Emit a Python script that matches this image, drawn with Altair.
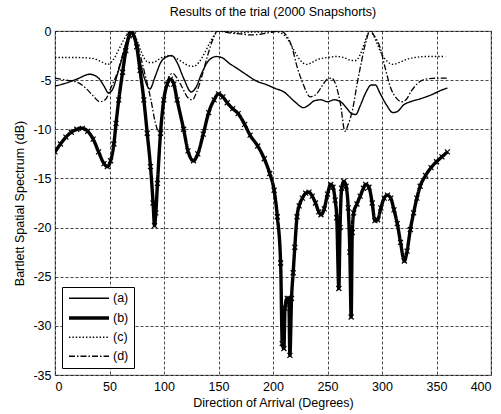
import altair as alt
import pandas as pd

# ---- data ----
a_x = [0, 10, 20, 32, 40, 45, 49, 53, 57, 62, 66, 70, 73, 77, 82, 87, 92, 97, 103, 107, 112, 118, 125, 129, 135, 141, 148, 153, 160, 167, 175, 185, 195, 201, 210, 220, 228, 232, 238, 244, 250, 256, 262, 268, 272, 276, 280, 285, 290, 294, 298, 304, 310, 314, 320, 326, 335, 345, 355, 360]
a_y = [-5.6, -5.3, -4.9, -4.4, -4.8, -5.6, -6.3, -5.9, -4.5, -2.6, -1.0, 0.0, -0.6, -2.6, -4.8, -5.9, -4.6, -3.2, -2.6, -2.5, -3.2, -4.8, -6.2, -5.8, -4.2, -3.0, -2.6, -2.7, -3.3, -3.8, -4.4, -5.1, -5.5, -5.8, -6.2, -7.2, -7.8, -7.6, -7.1, -7.0, -7.2, -7.0, -7.2, -7.9, -8.4, -8.5, -7.6, -6.3, -5.5, -5.5, -6.3, -7.5, -8.3, -8.2, -7.5, -7.2, -6.9, -6.5, -6.0, -5.8]

b_x = [0, 5, 10, 15, 20, 25, 30, 35, 40, 45, 48, 51, 54, 56, 58.5, 62, 65, 68, 70, 72, 75, 78, 81.5, 84.6, 87.6, 90, 91.3, 92.5, 94, 96.8, 99.8, 103, 106, 109, 112, 118, 122, 127, 131, 136, 141, 146, 150, 154, 158, 163, 168, 174, 179, 186, 192, 197, 201, 204, 207, 208.5, 210, 211, 213, 214.5, 215.5, 217, 218.5, 220, 222, 224, 227, 230, 233, 236, 239, 242, 244, 247, 250, 253, 255, 257, 258.5, 260.4, 261.5, 263, 265, 267, 269, 270.5, 271.7, 272.7, 274, 277, 280, 283, 285, 288, 291, 293.5, 296, 299, 302, 305, 308, 311, 314, 317, 320.5, 323, 326, 329, 332, 335, 340, 345, 350, 355, 360]
b_y = [-12.3, -11.5, -10.8, -10.3, -10.0, -9.9, -10.2, -11.0, -12.3, -13.5, -13.8, -13.2, -11.5, -9.4, -7.0, -4.2, -2.0, -0.5, 0.0, -0.4, -1.6, -4.0, -7.0, -10.4, -13.8, -17.5, -19.8, -18.5, -15.5, -10.4, -7.0, -5.4, -4.9, -5.4, -7.0, -10.0, -12.2, -13.2, -12.5, -10.5, -8.3, -7.0, -6.4, -6.7, -7.3, -7.9, -8.4, -9.5, -10.6, -11.7, -13.0, -14.5, -16.2, -18.9, -23.6, -31.8, -32.3, -28.2, -27.2, -27.2, -33.0, -27.2, -24.6, -22.0, -18.9, -17.8, -17.0, -16.5, -16.4, -16.8, -17.5, -18.4, -18.7, -18.1, -16.6, -15.6, -15.9, -17.2, -19.0, -26.2, -20.0, -16.0, -15.3, -15.8, -18.0, -22.5, -29.1, -20.5, -18.5, -17.6, -16.8, -16.0, -15.6, -15.9, -17.5, -19.3, -19.2, -18.0, -17.0, -16.7, -17.0, -18.2, -19.6, -21.5, -23.4, -22.4, -20.2, -18.5, -17.0, -15.8, -14.7, -13.9, -13.3, -12.8, -12.3]

c_x = [0, 20, 35, 42, 48, 53, 58, 63, 67, 70, 74, 78, 82, 86, 90, 95, 100, 105, 110, 116, 122, 127, 132, 137, 142, 147, 150, 160, 170, 180, 190, 200, 207, 212, 217, 222, 227, 231, 236, 241, 250, 258, 265, 272, 276, 280, 284, 287, 289, 292, 296, 300, 305, 310, 316, 322, 330, 340, 350, 358]
c_y = [-2.7, -2.7, -2.8, -3.1, -3.4, -3.0, -2.0, -0.9, -0.2, 0.0, -0.6, -1.8, -2.8, -3.2, -3.2, -2.9, -2.6, -2.5, -2.7, -3.1, -3.5, -3.6, -3.2, -2.3, -1.2, -0.3, 0.0, -0.1, -0.2, -0.1, -0.1, 0.0, -0.2, -0.6, -1.5, -2.5, -3.2, -3.4, -3.2, -2.9, -2.7, -2.6, -2.7, -3.0, -3.0, -2.4, -1.2, -0.3, 0.0, -0.4, -1.4, -2.4, -3.1, -3.4, -3.2, -2.9, -2.7, -2.6, -2.6, -2.6]

d_x = [0, 10, 20, 28, 35, 41, 46, 52, 57, 62, 66, 70, 74, 78, 83, 88, 92, 95, 98, 101, 104, 108, 112, 117, 122, 126, 130, 135, 140, 145, 149, 160, 170, 180, 190, 200, 207, 212, 217, 222, 228, 234, 240, 245, 250, 254, 258, 262, 266, 269, 273, 277, 281, 285, 289, 293, 298, 303, 308, 313, 318, 322, 327, 333, 340, 350, 360]
d_y = [-4.8, -5.0, -5.2, -5.8, -6.6, -7.2, -7.0, -5.6, -4.3, -2.4, -0.9, 0.0, -0.8, -2.4, -4.6, -7.0, -9.3, -10.2, -9.0, -6.5, -4.8, -4.3, -4.8, -5.8, -6.8, -7.0, -6.2, -4.5, -2.5, -0.8, 0.0, -0.2, -0.3, -0.4, -0.3, -0.1, 0.0, -0.4, -1.5, -3.6, -5.5, -6.7, -6.4, -5.6, -4.9, -4.8, -5.6, -7.5, -10.2, -9.5, -8.0, -5.5, -3.2, -1.2, 0.0, -0.5, -1.6, -3.8, -5.8, -6.8, -7.2, -7.0, -6.1, -5.3, -4.9, -4.8, -4.8]

series_names = ["(a)", "(b)", "(c)", "(d)"]
x_ticks = [0, 50, 100, 150, 200, 250, 300, 350, 400]
y_ticks = [-35, -30, -25, -20, -15, -10, -5, 0]

rows = []
for name, xs, ys in zip(series_names, [a_x, b_x, c_x, d_x], [a_y, b_y, c_y, d_y]):
    for i, (xv, yv) in enumerate(zip(xs, ys)):
        rows.append({"series": name, "doa": xv, "db": yv, "order": i})
df = pd.DataFrame(rows)

FONT = "Liberation Sans"

x_enc = alt.X("doa:Q", scale=alt.Scale(domain=[0, 400], nice=False),
              axis=alt.Axis(values=x_ticks, title="Direction of Arrival (Degrees)",
                            labelExpr="'' + datum.value"))
y_enc = alt.Y("db:Q", scale=alt.Scale(domain=[-35, 0], nice=False),
              axis=alt.Axis(values=y_ticks, title="Bartlett Spatial Spectrum (dB)",
                            labelExpr="'' + datum.value"))

legend = alt.Legend(title=None, orient="bottom-left", offset=7,
                    fillColor="white", strokeColor="black", padding=5,
                    symbolType="M-1,0H7", symbolSize=100, symbolStrokeColor="black",
                    labelFont=FONT, labelFontSize=12.5, labelColor="black",
                    labelOffset=32, rowPadding=6)

lines = alt.Chart(df).mark_line(color="black", interpolate="monotone", clip=True).encode(
    x=x_enc,
    y=y_enc,
    order="order:Q",
    strokeDash=alt.StrokeDash("series:N",
        scale=alt.Scale(type="ordinal", domain=series_names,
                        range=[[1, 0], [1, 0], [1.4, 2], [6, 2, 1.5, 2]]),
        legend=legend),
    strokeWidth=alt.StrokeWidth("series:N",
        scale=alt.Scale(type="ordinal", domain=series_names, range=[1.4, 3.4, 1.4, 1.3]),
        legend=legend),
)

xpath = "M-1,-1L1,1M-1,1L1,-1"
points = alt.Chart(df).transform_filter(alt.datum.series == "(b)").mark_point(
    shape=xpath, size=25, filled=False, color="black", strokeWidth=1.2, opacity=1, clip=True
).encode(x="doa:Q", y="db:Q")

chart = alt.layer(lines, points).properties(
    width=436, height=344,
    title=alt.Title("Results of the trial (2000 Snapshorts)", font=FONT, fontSize=12.5,
                    fontWeight="normal", color="black", offset=7),
    padding={"left": 55, "top": 31, "right": 10, "bottom": 39},
    autosize=alt.AutoSizeParams(type="none"),
).configure_view(
    stroke="#808080", strokeWidth=1.2
).configure_axis(
    grid=True, gridColor="black", gridDash=[3, 2], gridWidth=0.8, gridOpacity=0.9,
    domain=False, ticks=False,
    labelFont=FONT, labelFontSize=12.5, labelColor="black",
    titleFont=FONT, titleFontSize=12.5, titleFontWeight="normal", titleColor="black",
).configure_axisX(
    labelPadding=5, titlePadding=4
).configure_axisY(
    labelPadding=4, titlePadding=6
)

chart.save("out.html", embed_options={"renderer": "svg", "actions": False})
